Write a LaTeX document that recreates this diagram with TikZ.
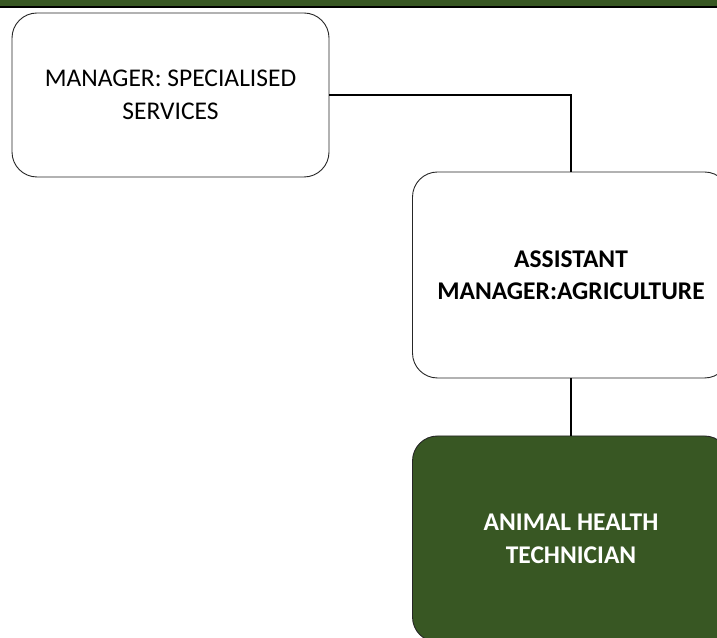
\documentclass[tikz,border=0pt]{standalone}
\usepackage{fontspec}
\setmainfont{Carlito}
\definecolor{dkgreen}{RGB}{56,87,35}
\begin{document}
\begin{tikzpicture}[x=1pt,y=1pt,
  box/.style={draw=black!85, line width=0.9pt, rounded corners=25pt, minimum width=317pt, align=center, inner sep=0pt,
    font=\fontsize{25.5}{32.5}\selectfont},
  conn/.style={draw=black, line width=2pt}]
\useasboundingbox (0,0) rectangle (717,637);
\clip (0,0) rectangle (717,637);
\fill[white] (0,0) rectangle (717,637);
\fill[dkgreen] (0,630) rectangle (717,637);
\draw[black, line width=2pt] (0,630) -- (717,630);
\node[box, fill=white, minimum height=164pt] (mgr) at (170.5,542) {MANAGER: SPECIALISED\\SERVICES};
\node[box, fill=white, minimum height=206pt, font=\fontsize{25.5}{32.5}\selectfont\bfseries] (asst) at (571,362) {ASSISTANT\\MANAGER:AGRICULTURE};
\node[box, fill=dkgreen, text=white, minimum height=206pt, font=\fontsize{25.5}{32.5}\selectfont\bfseries] (aht) at (571,98) {ANIMAL HEALTH\\TECHNICIAN};
\draw[conn] (mgr.east) -| (asst.north);
\draw[conn] (asst.south) -- (aht.north);
\end{tikzpicture}
\end{document}
